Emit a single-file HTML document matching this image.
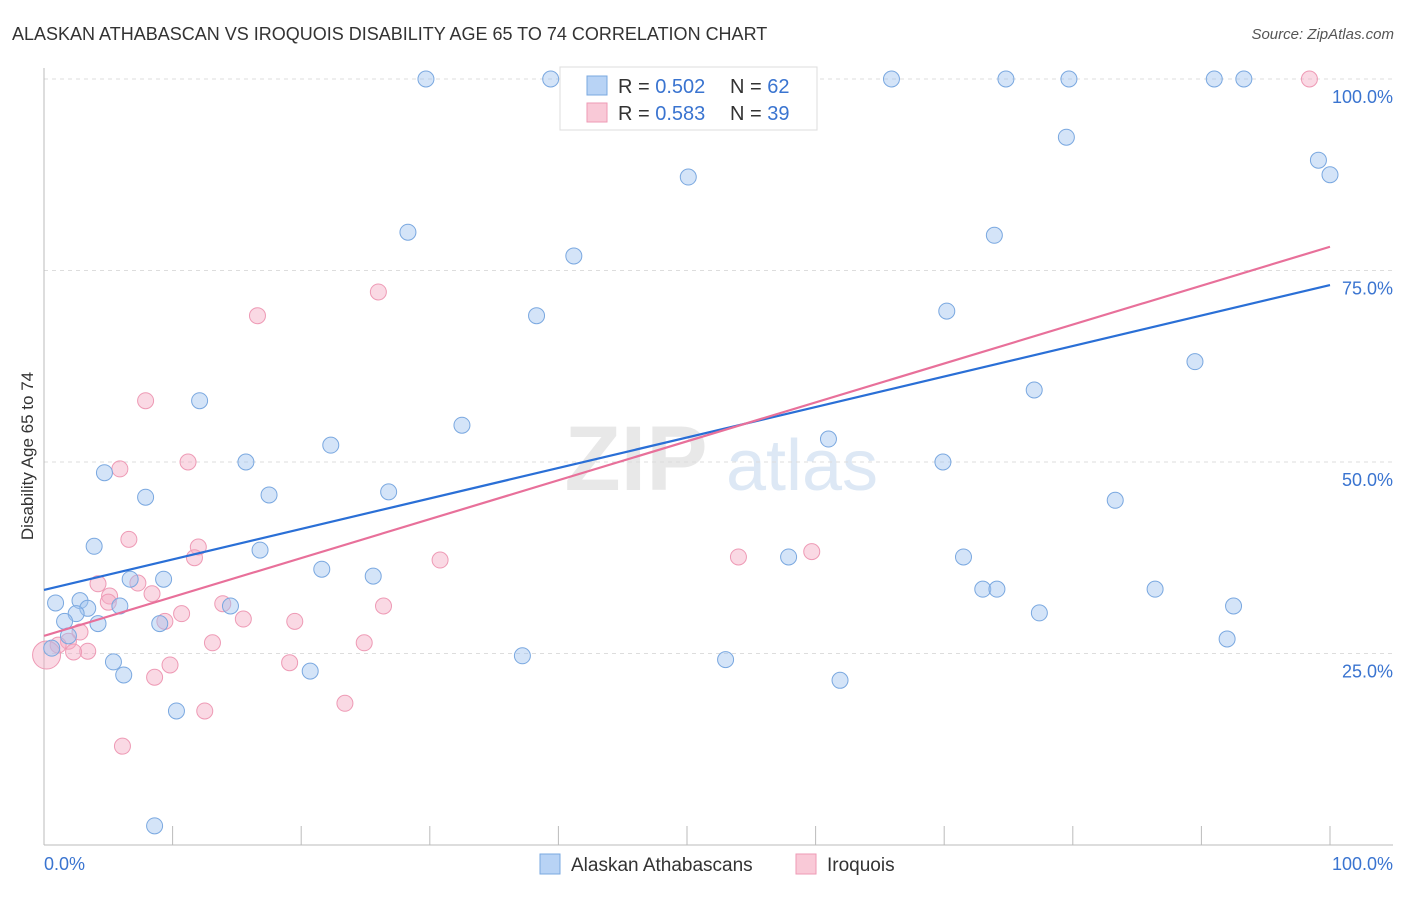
<!DOCTYPE html>
<html><head><meta charset="utf-8">
<style>
body{margin:0;background:#fff;font-family:"Liberation Sans",sans-serif;}
svg text{font-family:"Liberation Sans",sans-serif;}
</style></head>
<body>
<svg id="chart" width="1406" height="892" xmlns="http://www.w3.org/2000/svg">
<text x="12" y="40" font-size="18" fill="#333">ALASKAN ATHABASCAN VS IROQUOIS DISABILITY AGE 65 TO 74 CORRELATION CHART</text>
<text x="1394" y="39" font-size="15" fill="#555" text-anchor="end" font-style="italic">Source: ZipAtlas.com</text>
<g>
<text x="636" y="490" font-size="92" fill="#e8e8e8" font-family="Liberation Serif" text-anchor="middle" font-weight="bold">ZIP</text>
<text x="802" y="490" font-size="72" fill="#dde8f5" text-anchor="middle">atlas</text>
</g>
<g id="grid"></g>
<g id="axes"></g>
<text x="33" y="456" font-size="17" fill="#333" text-anchor="middle" transform="rotate(-90 33 456)">Disability Age 65 to 74</text>
<g id="points"></g>
<g id="trends"></g>
<g>
<rect x="560" y="67" width="257" height="63" fill="#fff" stroke="#ddd"/>
<rect x="587" y="76" width="20" height="19" fill="#b8d3f5" stroke="#7aa8e0"/>
<rect x="587" y="103" width="20" height="19" fill="#f9c9d7" stroke="#ee9ab5"/>
<text x="618" y="93" font-size="20" fill="#333">R = <tspan fill="#3a74d0">0.502</tspan></text>
<text x="730" y="93" font-size="20" fill="#333">N = <tspan fill="#3a74d0">62</tspan></text>
<text x="618" y="120" font-size="20" fill="#333">R = <tspan fill="#3a74d0">0.583</tspan></text>
<text x="730" y="120" font-size="20" fill="#333">N = <tspan fill="#3a74d0">39</tspan></text>
</g>
<g>
<rect x="540" y="854" width="20" height="20" fill="#b8d3f5" stroke="#7aa8e0"/>
<text x="571" y="871" font-size="19" fill="#333">Alaskan Athabascans</text>
<rect x="796" y="854" width="20" height="20" fill="#f9c9d7" stroke="#ee9ab5"/>
<text x="827" y="871" font-size="19" fill="#333">Iroquois</text>
</g>
</svg>
<script>
const blueX=[29.7,39.4,65.9,74.8,79.7,91.0,93.3,79.5,99.1,100,50.1,28.3,73.9,41.2,38.3,70.2,89.5,77.0,12.1,32.5,22.3,61.0,15.7,69.9,4.7,7.9,17.5,26.8,83.3,3.9,16.8,57.9,71.5,21.6,25.6,6.7,9.3,73.0,74.1,86.4,0.9,2.8,3.4,5.9,14.5,92.5,2.5,77.4,1.6,4.2,9.0,1.9,92.0,0.6,37.2,5.4,53.0,20.7,6.2,61.9,10.3,8.6];
const blueY=[100,100,100,100,100,100,100,92.4,89.4,87.5,87.2,80.0,79.6,76.9,69.1,69.7,63.1,59.4,58.0,54.8,52.2,53.0,50.0,50.0,48.6,45.4,45.7,46.1,45.0,39.0,38.5,37.6,37.6,36.0,35.1,34.7,34.7,33.4,33.4,33.4,31.6,31.9,30.9,31.2,31.2,31.2,30.2,30.3,29.2,28.9,28.9,27.3,26.9,25.7,24.7,23.9,24.2,22.7,22.2,21.5,17.5,2.5];
const pinkX=[98.4,26.0,16.6,7.9,5.9,11.2,6.6,12.0,11.7,30.8,54.0,59.7,4.2,7.3,5.1,8.4,5.0,13.9,10.7,15.5,19.5,26.4,9.4,2.8,1.9,13.1,24.9,1.1,3.4,2.3,0.2,9.8,19.1,8.6,12.5,23.4,6.1];
const pinkY=[100,72.2,69.1,58.0,49.1,50.0,39.9,38.9,37.5,37.2,37.6,38.3,34.1,34.2,32.5,32.8,31.7,31.5,30.2,29.5,29.2,31.2,29.2,27.8,26.6,26.4,26.4,26.1,25.3,25.2,24.8,23.5,23.8,21.9,17.5,18.5,12.9];
const blueTrend=[33.3,73.1];
const pinkTrend=[27.3,78.1];
const yTicks=[25,50,75,100];
const yTickLabels=["25.0%","50.0%","75.0%","100.0%"];
const xTicks=[0,10,20,30,40,50,60,70,80,90,100];

const NS="http://www.w3.org/2000/svg";
const X=v=>44+v*12.86;
const Y=v=>845-v*7.66;
function mk(tag,attrs,parent){const e=document.createElementNS(NS,tag);for(const k in attrs)e.setAttribute(k,attrs[k]);parent.appendChild(e);return e;}
const grid=document.getElementById('grid'),axes=document.getElementById('axes'),pts=document.getElementById('points'),tr=document.getElementById('trends');
yTicks.forEach((t,i)=>{
 const l=mk('line',{x1:44,x2:1393,y1:Y(t),y2:Y(t),stroke:'#ddd','stroke-dasharray':'4 4'},grid);
 
 
 const tx=mk('text',{x:1393,y:Y(t)+24,'font-size':18,fill:'#3a74d0','text-anchor':'end'},axes);
 tx.textContent=yTickLabels[i];
 
 
});
const ax=mk('line',{x1:44,x2:1393,y1:845,y2:845,stroke:'#bbb'},axes);


const ay=mk('line',{x1:44,x2:44,y1:68,y2:845,stroke:'#bbb'},axes);


xTicks.forEach(t=>{
 const l=mk('line',{x1:X(t),x2:X(t),y1:826,y2:845,stroke:'#bbb'},axes);
 
 
});
const xl0=mk('text',{x:44,y:870,'font-size':18,fill:'#3a74d0'},axes);xl0.textContent='0.0%';


const xl1=mk('text',{x:1393,y:870,'font-size':18,fill:'#3a74d0','text-anchor':'end'},axes);xl1.textContent='100.0%';


pinkX.forEach((v,i)=>{
 const c=mk('circle',{cx:X(v),cy:Y(pinkY[i]),r:(i===30?14:8),fill:'rgba(245,170,195,0.45)',stroke:'#ee9ab5','stroke-width':1},pts);
 
 
});
blueX.forEach((v,i)=>{
 const c=mk('circle',{cx:X(v),cy:Y(blueY[i]),r:8,fill:'rgba(160,196,240,0.45)',stroke:'#7aa8e0','stroke-width':1},pts);
 
 
});
const bl=mk('line',{x1:X(0),y1:Y(blueTrend[0]),x2:X(100),y2:Y(blueTrend[1]),stroke:'#2a6fd6','stroke-width':2.2},tr);


const pl=mk('line',{x1:X(0),y1:Y(pinkTrend[0]),x2:X(100),y2:Y(pinkTrend[1]),stroke:'#e8709a','stroke-width':2.2},tr);


</script>
</body></html>
